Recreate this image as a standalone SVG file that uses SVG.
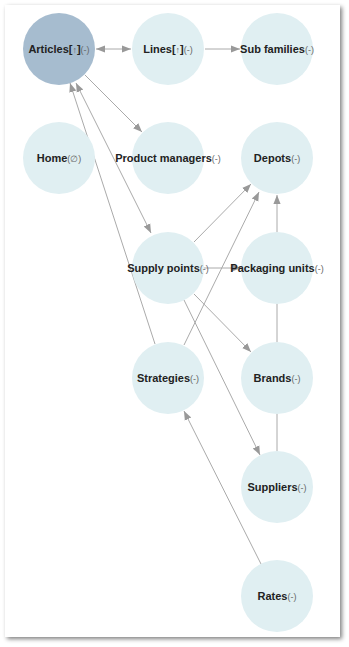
<svg xmlns="http://www.w3.org/2000/svg" width="349" height="647" viewBox="0 0 349 647">
<defs>
<filter id="sh" x="-5%" y="-5%" width="115%" height="115%">
<feGaussianBlur in="SourceAlpha" stdDeviation="2"/>
<feOffset dx="2" dy="2" result="b"/>
<feFlood flood-color="#000" flood-opacity="0.5"/>
<feComposite in2="b" operator="in"/>
<feMerge><feMergeNode/><feMergeNode in="SourceGraphic"/></feMerge>
</filter>
<marker id="ah" viewBox="0 0 10 10" refX="10" refY="5" markerWidth="9" markerHeight="9" markerUnits="userSpaceOnUse" orient="auto-start-reverse">
<path d="M0,1 L10,5 L0,9 z" fill="#999"/>
</marker>
<style>
.n{fill:#e0eff2}
.sel{fill:#a6bccf}
.t{font-family:"Liberation Sans",Arial,sans-serif;font-size:11px;font-weight:bold;fill:#222;text-anchor:middle}
.s{font-weight:normal;font-size:9px;fill:#666}
.e{stroke:#aaa;stroke-width:1;fill:none}
.a{marker-end:url(#ah)}
.b{marker-start:url(#ah);marker-end:url(#ah)}
</style>
</defs>
<rect x="5" y="5" width="335" height="632" fill="#fff" filter="url(#sh)"/>
<g id="connectors">
<line class="e b" x1="96" y1="49" x2="131" y2="49"/>
<line class="e a" x1="205" y1="49" x2="240" y2="49"/>
<line class="e a" x1="85" y1="75" x2="142" y2="132"/>
<line class="e b" x1="76" y1="83" x2="151" y2="233"/>
<line class="e a" x1="155" y1="344" x2="70" y2="83"/>
<line class="e a" x1="194" y1="242" x2="251" y2="184"/>
<line class="e a" x1="184" y1="345" x2="259" y2="192"/>
<line class="e a" x1="204" y1="268" x2="241" y2="268"/>
<line class="e a" x1="277" y1="232" x2="277" y2="195"/>
<line class="e" x1="277" y1="304" x2="277" y2="342"/>
<line class="e a" x1="194" y1="294" x2="251" y2="352"/>
<line class="e a" x1="184" y1="300" x2="260" y2="455"/>
<line class="e" x1="277" y1="414" x2="277" y2="451"/>
<line class="e a" x1="261" y1="564" x2="184" y2="411"/>
</g>
<g id="articles"><circle class="sel" cx="59" cy="49" r="36"/><text class="t" x="59" y="53">Articles[<tspan class="s" font-size="10">↑</tspan>]<tspan class="s">(-)</tspan></text></g>
<g id="lines"><circle class="n" cx="168" cy="49" r="36"/><text class="t" x="168" y="53">Lines[<tspan class="s" font-size="10">↑</tspan>]<tspan class="s">(-)</tspan></text></g>
<g id="subfamilies"><circle class="n" cx="277" cy="49" r="36"/><text class="t" x="277" y="53">Sub families<tspan class="s">(-)</tspan></text></g>
<g id="home"><circle class="n" cx="59" cy="158" r="36"/><text class="t" x="59" y="162">Home<tspan class="s">(∅)</tspan></text></g>
<g id="productmanagers"><circle class="n" cx="168" cy="158" r="36"/><text class="t" x="168" y="162">Product managers<tspan class="s">(-)</tspan></text></g>
<g id="depots"><circle class="n" cx="277" cy="158" r="36"/><text class="t" x="277" y="162">Depots<tspan class="s">(-)</tspan></text></g>
<g id="supplypoints"><circle class="n" cx="168" cy="268" r="36"/><text class="t" x="168" y="272">Supply points<tspan class="s">(-)</tspan></text></g>
<g id="packagingunits"><circle class="n" cx="277" cy="268" r="36"/><text class="t" x="277" y="272">Packaging units<tspan class="s">(-)</tspan></text></g>
<g id="strategies"><circle class="n" cx="168" cy="378" r="36"/><text class="t" x="168" y="382">Strategies<tspan class="s">(-)</tspan></text></g>
<g id="brands"><circle class="n" cx="277" cy="378" r="36"/><text class="t" x="277" y="382">Brands<tspan class="s">(-)</tspan></text></g>
<g id="suppliers"><circle class="n" cx="277" cy="487" r="36"/><text class="t" x="277" y="491">Suppliers<tspan class="s">(-)</tspan></text></g>
<g id="rates"><circle class="n" cx="277" cy="596" r="36"/><text class="t" x="277" y="600">Rates<tspan class="s">(-)</tspan></text></g>
</svg>
